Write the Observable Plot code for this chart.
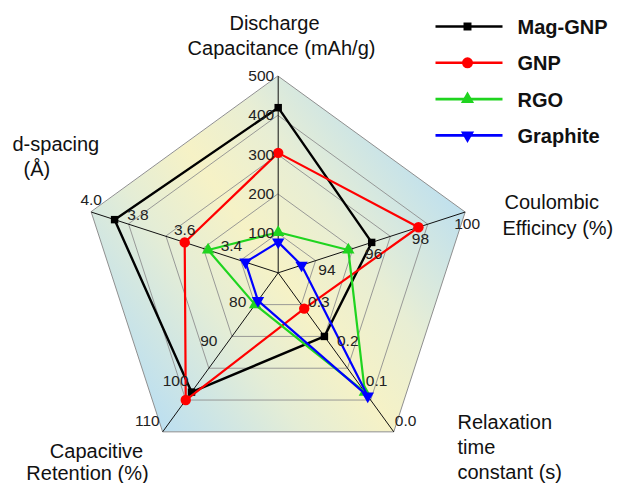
<!DOCTYPE html>
<html>
<head>
<meta charset="utf-8">
<script src="https://cdn.jsdelivr.net/npm/d3@7"></script>
<script src="https://cdn.jsdelivr.net/npm/@observablehq/plot@0.6"></script>
<style>
  html, body { margin: 0; padding: 0; background: #fff; }
  #chart { width: 621px; height: 483px; }
</style>
</head>
<body>
<div id="chart"></div>
<script>
// ---------- DATA ----------
const categories = ["Discharge Capacitance (mAh/g)", "Coulombic Efficincy (%)", "Relaxation time constant (s)", "Capacitive Retention (%)", "d-spacing (Å)"];
const categoryLines = [["Discharge", "Capacitance (mAh/g)"], ["Coulombic", "Efficincy (%)"], ["Relaxation", "time", "constant (s)"], ["Capacitive", "Retention (%)"], ["d-spacing", "(Å)"]];
const axisMin = [0, 92, 0.4, 70, 3.2];
const axisMax = [500, 100, 0.0, 110, 4.0];
const tickValues = [[100, 200, 300, 400, 500], [94, 96, 98, 100], [0.3, 0.2, 0.1, 0.0], [80, 90, 100, 110], [3.4, 3.6, 3.8, 4.0]];
const tickLabels = [["100", "200", "300", "400", "500"], ["94", "96", "98", "100"], ["0.3", "0.2", "0.1", "0.0"], ["80", "90", "100", "110"], ["3.4", "3.6", "3.8", "4.0"]];
const seriesNames = ["Mag-GNP", "GNP", "RGO", "Graphite"];
const magGNP   = [420, 96.0, 0.24, 100, 3.90];
const gnp      = [305, 98.0, 0.31, 102, 3.60];
const rgo      = [103, 95.0, 0.10, 78, 3.50];
const graphite = [78, 93.0, 0.09, 77, 3.34];
const seriesColors = ["#000000", "#ff0000", "#1fd41f", "#0000ff"];

// ---------- LAYOUT ----------
const W = 621, H = 483, CX = 277.7, CY = 272.3, R = 196.6;
const ang = i => Math.PI / 2 - i * 2 * Math.PI / 5;
const frac = (i, v) => (v - axisMin[i]) / (axisMax[i] - axisMin[i]);
const pt = (i, f) => [f * Math.cos(ang(i)), f * Math.sin(ang(i))];
const U = px => (px - CX) / R;
const V = py => (CY - py) / R;
const toPx = (u, v) => [CX + u * R, CY - v * R];

const invTriangle = {
  draw(context, size) {
    const s3 = Math.sqrt(3);
    const y = -Math.sqrt(size / (s3 * 3));
    context.moveTo(0, -y * 2);
    context.lineTo(-s3 * y, y);
    context.lineTo(s3 * y, y);
    context.closePath();
  }
};
const seriesSymbols = ["square", "circle", "triangle", invTriangle];
const seriesR = [4.2, 5.2, 4.6, 4.6];

const ringLevels = [0.2, 0.4, 0.6, 0.8];
const ringData = ringLevels.flatMap(l => categories.map((c, i) => ({level: l, x: pt(i, l)[0], y: pt(i, l)[1]})));
const outer = categories.map((c, i) => ({x: pt(i, 1)[0], y: pt(i, 1)[1]}));
const spokes = categories.map((c, i) => ({x1: 0, y1: 0, x2: pt(i, 1)[0], y2: pt(i, 1)[1]}));
const seriesValues = [magGNP, gnp, rgo, graphite];
const seriesData = seriesNames.map((name, s) => seriesValues[s].map((v, i) => {
  const p = pt(i, frac(i, v));
  return {name, x: p[0], y: p[1]};
}));

// tick label placement per axis (anchor, dx, dy)
const tickStyle = [
  {textAnchor: "end", dx: -4, dy: 0},
  {textAnchor: "middle", dx: 2, dy: 12},
  {textAnchor: "start", dx: 1, dy: -11},
  {textAnchor: "end", dx: -3, dy: -11},
  {textAnchor: "middle", dx: 0, dy: -12}
];
const tickMarks = categories.map((c, i) => {
  const d = tickValues[i].map((v, k) => {
    const p = pt(i, frac(i, v));
    return {x: p[0], y: p[1], label: tickLabels[i][k]};
  });
  return Plot.text(d, {x: "x", y: "y", text: "label", fontSize: 15.5, fill: "#222", lineAnchor: "middle", ...tickStyle[i]});
});

// axis title positions (pixel) per line
const titlePos = [
  [[274, 29, "middle"], [281, 54, "middle"]],
  [[504, 208, "start"], [502, 234, "start"]],
  [[457, 428, "start"], [457, 453, "start"], [457, 478, "start"]],
  [[96, 457, "middle"], [87, 479, "middle"]],
  [[12, 150, "start"], [23, 175, "start"]]
];
const titleData = categoryLines.flatMap((lines, i) => lines.map((t, k) => ({
  x: U(titlePos[i][k][0]), y: V(titlePos[i][k][1]), text: t, anchor: titlePos[i][k][2]
})));
const titleMarks = ["start", "middle"].map(a => Plot.text(titleData.filter(d => d.anchor === a), {
  x: "x", y: "y", text: "text", textAnchor: a, lineAnchor: "bottom", fontSize: 20, fill: "#111"
}));

// legend
const legX1 = 435, legX2 = 502, legMX = 467, legTX = 517, legY0 = 26, legStep = 36.3;
const legendData = seriesNames.map((name, s) => ({
  name, s,
  x1: U(legX1), x2: U(legX2), xm: U(legMX), xt: U(legTX), y: V(legY0 + s * legStep)
}));
const legendMarks = [];
legendData.forEach(d => {
  legendMarks.push(Plot.link([d], {x1: "x1", x2: "x2", y1: "y", y2: "y", stroke: seriesColors[d.s], strokeWidth: 2.6}));
  legendMarks.push(Plot.dot([d], {x: "xm", y: "y", symbol: seriesSymbols[d.s], r: seriesR[d.s] + 0.3, fill: seriesColors[d.s], stroke: "none"}));
});
legendMarks.push(Plot.text(legendData, {x: "xt", y: "y", text: "name", textAnchor: "start", lineAnchor: "middle", fontSize: 20, fontWeight: "bold", fill: "#111", dy: 1}));

const seriesMarks = [];
seriesData.forEach((d, s) => {
  seriesMarks.push(Plot.line(d, {x: "x", y: "y", curve: "linear-closed", stroke: seriesColors[s], strokeWidth: s === 0 ? 2.4 : 2.2, strokeLinejoin: "miter"}));
  seriesMarks.push(Plot.dot(d, {x: "x", y: "y", symbol: seriesSymbols[s], r: seriesR[s], fill: seriesColors[s], stroke: "none"}));
});

const chart = Plot.plot({
  width: W, height: H, margin: 0,
  style: {fontFamily: "'Liberation Sans', Arial, sans-serif", background: "transparent", overflow: "visible"},
  x: {domain: [U(0), U(W)], range: [0, W], axis: null},
  y: {domain: [V(H), V(0)], range: [H, 0], axis: null},
  marks: [
    Plot.line(outer, {x: "x", y: "y", curve: "linear-closed", fill: "url(#bgGrad)", stroke: "#8f8f8f", strokeWidth: 1}),
    Plot.line(ringData, {x: "x", y: "y", z: "level", curve: "linear-closed", stroke: "#8f8f8f", strokeWidth: 0.9}),
    Plot.link(spokes, {x1: "x1", y1: "y1", x2: "x2", y2: "y2", stroke: "#111", strokeWidth: 1}),
    ...seriesMarks,
    ...tickMarks,
    ...titleMarks,
    ...legendMarks
  ]
});

// background gradient (lower-left vertex -> upper-right vertex)
const pLL = toPx(...pt(3, 1)), pUR = toPx(...pt(1, 1));
const ns = "http://www.w3.org/2000/svg";
const defs = document.createElementNS(ns, "defs");
const grad = document.createElementNS(ns, "linearGradient");
grad.setAttribute("id", "bgGrad");
grad.setAttribute("gradientUnits", "userSpaceOnUse");
grad.setAttribute("x1", pLL[0]); grad.setAttribute("y1", pLL[1]);
grad.setAttribute("x2", pUR[0]); grad.setAttribute("y2", pUR[1]);
[[0, "#bcdff0"], [0.3, "#e4edd6"], [0.5, "#f6f2c6"], [0.7, "#e8eed4"], [1, "#bfe0ee"]].forEach(([o, c]) => {
  const st = document.createElementNS(ns, "stop");
  st.setAttribute("offset", o); st.setAttribute("stop-color", c);
  grad.appendChild(st);
});
defs.appendChild(grad);
chart.insertBefore(defs, chart.firstChild);
document.getElementById("chart").appendChild(chart);
</script>
</body>
</html>
